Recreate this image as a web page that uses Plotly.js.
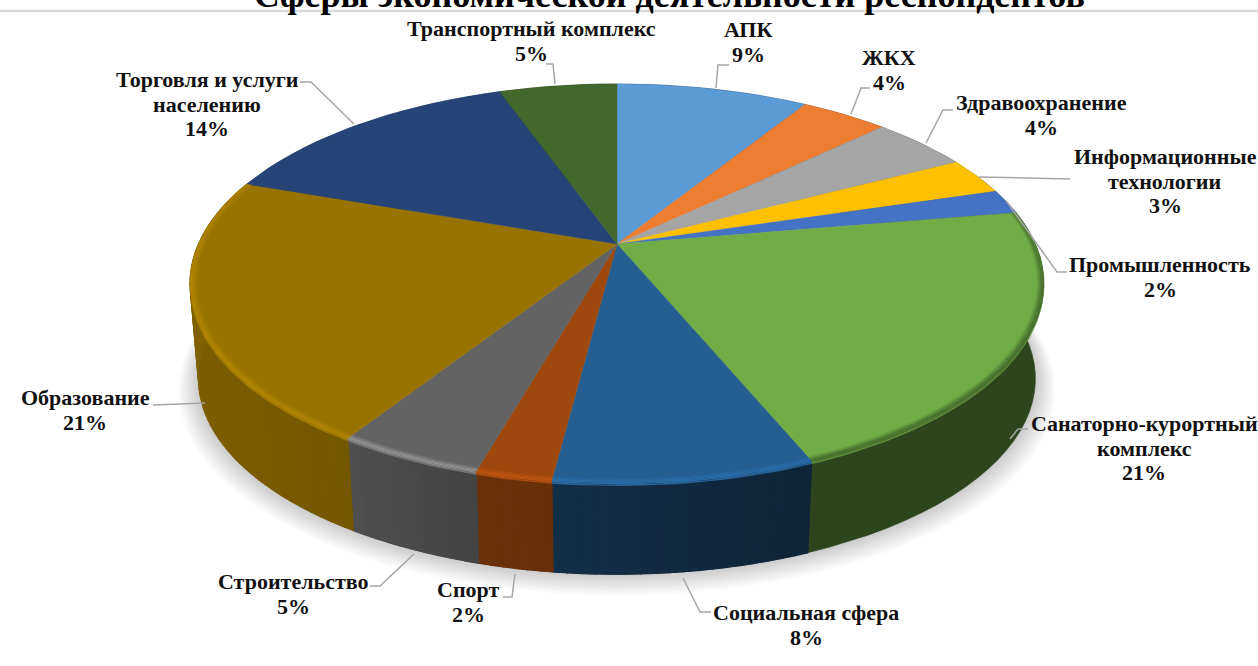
<!DOCTYPE html>
<html><head><meta charset="utf-8">
<script src="https://cdn.plot.ly/plotly-3.0.1.min.js"></script>
<style>html,body{margin:0;padding:0;background:#fff;overflow:hidden}#c{width:1258px;height:666px}</style>
</head><body><div id="c"></div>
<script>
const categories = ['АПК','ЖКХ','Здравоохранение','Информационные<br>технологии','Промышленность','Санаторно-курортный<br>комплекс','Социальная сфера','Спорт','Строительство','Образование','Торговля и услуги<br>населению','Транспортный комплекс'];
const sliceValues = [8.8,4.0,4.5,3.0,2.0,21.5,8.2,2.4,4.6,21.4,14.2,5.4];
const shareLabels = ['9%','4%','4%','3%','2%','21%','8%','2%','5%','21%','14%','5%'];
const colors = ['#5b9bd5','#ed7d31','#a5a5a5','#ffc000','#4472c4','#70ad47','#255e91','#9e480e','#636363','#997300','#264478','#43682b'];
const titleText = 'Сферы экономической деятельности респондентов';

// styling per slice
const wallShade = [[.5,.5],[.5,.5],[.5,.5],[.5,.5],[.4,.4],[.4,.4],[.38,.5],[.65,.68],[.68,.8],[.76,.88],[.8,.8],[.5,.5]];
const rimLift = [1,1,1,1,1,.62,1.16,1.2,1.5,1.16,1,1];
const labelCenters = [[748,42],[889,70],[1041,115],[1165,181],[1160,277],[1144,448],[806,625],[468,602],[293,594],[85,410],[207,104],[531,41]];
const leaders = [
 [[716,88],[718,65],[729,65]],[[851,114],[861,88],[870,88]],[[926,143],[943,110],[953,110]],
 [[979,177],[1070,179]],[[1007,202],[1057,272],[1067,272]],[[1010,439],[1018,429],[1028,429]],
 [[683,578],[700,612],[711,612]],[[515,574],[512,597],[503,597]],[[414,554],[380,586],[370,586]],
 [[205,403],[153,405]],[[354,124],[311,82],[300,82]],[[555,84],[553,64],[546,64]]];

// projection of the tilted disc
const CX=617, CY=244, R=418.5, C=191.7, K=0.198, DEPTH=96, BOTTOM=0.98, LINE_GAP=24.7;
function rimTop(th,r){const X=r*Math.sin(th),Y=-r*Math.cos(th),w=1-K*Y;return [CX+R*X/w,CY+C*Y/w];}
function rimBottom(th,r){const p=rimTop(th,r);return [CX+BOTTOM*(p[0]-CX),CY+BOTTOM*(p[1]-CY)+DEPTH];}
function bevelPoint(th,b){ if(b.r!==undefined) return rimTop(th,b.r); const p=rimTop(th,1); return [p[0],p[1]+b.d]; }
function shadeColor(hex,f){const n=parseInt(hex.slice(1),16);const ch=[n>>16,(n>>8)&255,n&255].map(v=>Math.min(255,Math.round(v*f)));return `rgb(${ch.join(',')})`;}
function poly(pts,fill,lw){return {type:'scatter',mode:'lines',x:pts.map(p=>p[0]),y:pts.map(p=>p[1]),fill:'toself',fillcolor:fill,line:{color:fill,width:lw===undefined?1.2:lw},hoverinfo:'skip',showlegend:false};}
function steps(a,b,d){const n=Math.max(2,Math.ceil((b-a)/d));const o=[];for(let i=0;i<=n;i++)o.push(a+(b-a)*i/n);return o;}

const total=sliceValues.reduce((s,v)=>s+v,0);
const angles=[0];sliceValues.forEach(v=>angles.push(angles[angles.length-1]+v/total*2*Math.PI));
const traces=[];

// soft shadow under the disc
for(let i=10;i>=1;i--){
  const pts=steps(0,2*Math.PI,.05).map(t=>{const p=rimBottom(t,1);return [CX+(p[0]-CX)*(1+i*.0048),(CY+DEPTH)+(p[1]-CY-DEPTH)*(1+i*.0048)+i*1.0];});
  traces.push({type:'scatter',mode:'lines',x:pts.map(p=>p[0]),y:pts.map(p=>p[1]),fill:'toself',fillcolor:'rgba(0,0,0,0.02)',line:{width:0},hoverinfo:'skip',showlegend:false});
}
// side walls
sliceValues.forEach((v,i)=>{
  const a=angles[i],b=angles[i+1],whole=steps(a,b,.05);
  const same=wallShade[i][0]===wallShade[i][1];
  const wallPts=[...whole.map(t=>rimTop(t,1)),...whole.slice().reverse().map(t=>rimBottom(t,1))];
  wallPts.push(wallPts[0]);
  traces.push(poly(wallPts,shadeColor(colors[i],(wallShade[i][0]+wallShade[i][1])/2),.6));
  if(same) return;
  const ts=steps(a,b,.03);
  for(let j=0;j<ts.length-1;j++){
    const f=wallShade[i][0]+(wallShade[i][1]-wallShade[i][0])*(j+.5)/(ts.length-1);
    traces.push(poly([rimTop(ts[j],1),rimTop(ts[j+1],1),rimBottom(ts[j+1],1),rimBottom(ts[j],1),rimTop(ts[j],1)],shadeColor(colors[i],f)));
  }
});
// top faces
sliceValues.forEach((v,i)=>{
  const arc=steps(angles[i],angles[i+1],.02).map(t=>rimTop(t,1));
  const pts=[[CX,CY],...arc,[CX,CY]];
  const t=poly(pts,colors[i],0.4);
  t.hoverinfo='text';t.text=categories[i].replace('<br>',' ')+' '+shareLabels[i];
  traces.push(t);
});
// rim bevel: inner bands shrink radially, outer bands drop straight down onto the wall
const bands=[[{r:.984},{r:.988},.25],[{r:.988},{r:.992},.55],[{r:.992},{r:.996},.85],[{r:.996},{r:1},1],[{d:0},{d:1.5},.8],[{d:1.5},{d:3},.4]];
sliceValues.forEach((v,i)=>{
  if(rimLift[i]===1) return;
  bands.forEach(bd=>{
    const f=1+(rimLift[i]-1)*bd[2];
    const ts=steps(angles[i],angles[i+1],.02);
    const outer=ts.map(t=>bevelPoint(t,bd[1])),inner=ts.slice().reverse().map(t=>bevelPoint(t,bd[0]));
    traces.push(poly([...outer,...inner,outer[0]],shadeColor(colors[i],f),0));
  });
});
// leader lines
leaders.forEach(l=>traces.push({type:'scatter',mode:'lines',x:l.map(p=>p[0]),y:l.map(p=>p[1]),line:{color:'#a6a6a6',width:1.5},hoverinfo:'skip',showlegend:false}));

const annotations=[];
categories.forEach((c,i)=>{
  const lines=c.split('<br>').concat(shareLabels[i]);
  lines.forEach((txt,j)=>annotations.push({x:labelCenters[i][0],y:labelCenters[i][1]+(j-(lines.length-1)/2)*LINE_GAP,xref:'x',yref:'y',text:'<b>'+txt+'</b>',showarrow:false,xanchor:'center',yanchor:'middle',align:'center',font:{family:'"Liberation Serif",serif',size:22,color:'#111'}}));
});

const layout={width:1258,height:666,margin:{l:0,r:0,t:0,b:0},paper_bgcolor:'#fff',plot_bgcolor:'#fff',showlegend:false,
 title:{text:'<b>'+titleText+'</b>',x:0.532,xanchor:'center',y:1,yanchor:'bottom',yref:'container',pad:{b:-7},font:{family:'"Liberation Serif",serif',size:36,color:'#000'}},
 xaxis:{visible:false,range:[0,1258],fixedrange:true},
 yaxis:{visible:false,range:[666,0],fixedrange:true},
 shapes:[{type:'line',xref:'paper',yref:'y',x0:0,x1:1,y0:11,y1:11,line:{color:'#d9d9d9',width:2.5},layer:'below'}],
 annotations};
Plotly.newPlot('c',traces,layout,{displayModeBar:false});
</script></body></html>
